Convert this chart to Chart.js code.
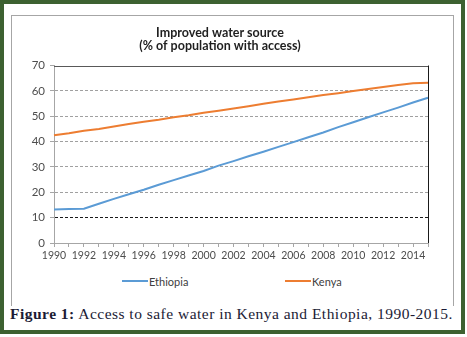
<!DOCTYPE html>
<html>
<head>
<meta charset="utf-8">
<script src="https://cdn.jsdelivr.net/npm/chart.js@4"></script>
<style>
  html, body { margin: 0; padding: 0; background: #fff; }
  body { width: 467px; height: 337px; position: relative; overflow: hidden; }
  #frame { position: absolute; left: 0; top: 0; width: 457px; height: 326px; border: 4px solid #3d6131; }
  #box { position: absolute; left: 11px; top: 15px; width: 441px; height: 290px; border: 1px solid #a6a6a6; border-bottom: none; }
  #wrap { position: absolute; left: 12px; top: 16px; width: 440px; height: 256px; }
  #legend { position: absolute; top: 274px; left: 0; width: 467px; height: 14px; font-family: Lato, "Open Sans", sans-serif; font-size: 11px; color: #404040; }
  .li { position: absolute; top: 0; display: flex; align-items: center; height: 14px; }
  .sw { display: inline-block; width: 26px; height: 2px; margin-right: 1px; }
  #caption { position: absolute; left: 10px; top: 305px; font-family: "Liberation Serif", "DejaVu Serif", serif; font-size: 15.5px; letter-spacing: 0.48px; color: #1b1b35; white-space: nowrap; }
  #caption b { font-weight: bold; }
</style>
</head>
<body>
<div id="frame"></div>
<div id="box"></div>
<div id="wrap"><canvas id="c" width="440" height="256"></canvas></div>
<div id="legend"></div>
<div id="caption"><b>Figure 1:</b> Access to safe water in Kenya and Ethiopia, 1990-2015.</div>
<script>
const years = ['1990','1991','1992','1993','1994','1995','1996','1997','1998','1999','2000','2001','2002','2003','2004','2005','2006','2007','2008','2009','2010','2011','2012','2013','2014','2015'];
const ethiopia = [13.2,13.4,13.5,15.5,17.4,19.2,21.0,23.0,24.8,26.6,28.4,30.5,32.3,34.2,36.0,37.9,39.8,41.7,43.6,45.7,47.6,49.6,51.5,53.4,55.4,57.3];
const kenya = [42.5,43.3,44.3,45.0,45.9,46.9,47.8,48.6,49.6,50.4,51.4,52.2,53.0,53.9,54.9,55.8,56.6,57.5,58.4,59.1,59.9,60.7,61.5,62.3,63.0,63.2];
const yTicks = [0,10,20,30,40,50,60,70];
const seriesNames = ['Ethiopia','Kenya'];
const seriesColors = ['#5b9bd5','#ed7d31'];
const titleLines = ['Improved water source','(% of population with access)'];

const framePlugin = {
  id: 'frame',
  afterDatasetsDraw(chart) {
    const {ctx, chartArea: a} = chart;
    ctx.save();
    ctx.lineWidth = 1;
    ctx.strokeStyle = '#595959';
    ctx.beginPath(); ctx.moveTo(a.left, Math.round(a.top) + 0.5); ctx.lineTo(a.right, Math.round(a.top) + 0.5); ctx.stroke();
    ctx.strokeStyle = '#1a1a1a';
    ctx.beginPath(); ctx.moveTo(Math.round(a.right) + 0.5, a.top); ctx.lineTo(Math.round(a.right) + 0.5, a.bottom); ctx.stroke();
    ctx.restore();
  }
};

new Chart(document.getElementById('c'), {
  type: 'line',
  data: {
    labels: years,
    datasets: [
      { label: seriesNames[0], data: ethiopia, borderColor: seriesColors[0], backgroundColor: seriesColors[0], borderWidth: 2, pointRadius: 0, tension: 0 },
      { label: seriesNames[1], data: kenya, borderColor: seriesColors[1], backgroundColor: seriesColors[1], borderWidth: 2, pointRadius: 0, tension: 0 }
    ]
  },
  options: {
    responsive: false,
    animation: false,
    layout: { padding: { left: 0, right: 24, top: 0, bottom: 0 } },
    plugins: {
      legend: { display: false },
      tooltip: { enabled: false },
      title: {
        display: true,
        text: titleLines,
        color: '#1f1f1f',
        font: { family: 'Lato, "Open Sans", sans-serif', size: 12.5, weight: 'bold', lineHeight: 1.06 },
        padding: { top: 10, bottom: 13 }
      }
    },
    scales: {
      x: {
        type: 'category',
        offset: false,
        afterFit(s) { s.height = 29; },
        grid: { drawOnChartArea: false, drawTicks: true, tickLength: 4, tickColor: '#a6a6a6', tickBorderDash: [] },
        border: { display: true, color: '#a6a6a6', width: 1 },
        ticks: {
          autoSkip: false, maxRotation: 0, minRotation: 0, padding: 2,
          color: '#4d4d4d',
          font: { family: 'Lato, "Open Sans", sans-serif', size: 10.5 },
          callback(v, i) { const y = years[i]; return (+y % 2 === 0) ? y : ''; }
        }
      },
      y: {
        min: 0, max: 70,
        afterFit(s) { s.width = 42; },
        afterBuildTicks(s) { s.ticks = yTicks.map(v => ({ value: v })); },
        grid: {
          color(ctx) { const v = ctx.tick && ctx.tick.value; if (v === 0 || v === 70) return 'rgba(0,0,0,0)'; return v === 10 ? '#1a1a1a' : '#a0a0a0'; },
          tickColor: '#a6a6a6', tickLength: 4, tickBorderDash: [], lineWidth: 1
        },
        border: { display: true, color: '#a6a6a6', width: 1, dash: [3, 2] },
        ticks: { padding: 5, color: '#4d4d4d', font: { family: 'Lato, "Open Sans", sans-serif', size: 11.5 } }
      }
    }
  },
  plugins: [framePlugin]
});

const leg = document.getElementById('legend');
const legX = [122, 285];
seriesNames.forEach((n, i) => {
  const d = document.createElement('div');
  d.className = 'li';
  d.style.left = legX[i] + 'px';
  d.innerHTML = '<span class="sw" style="background:' + seriesColors[i] + '"></span><span>' + n + '</span>';
  leg.appendChild(d);
});
</script>
</body>
</html>
